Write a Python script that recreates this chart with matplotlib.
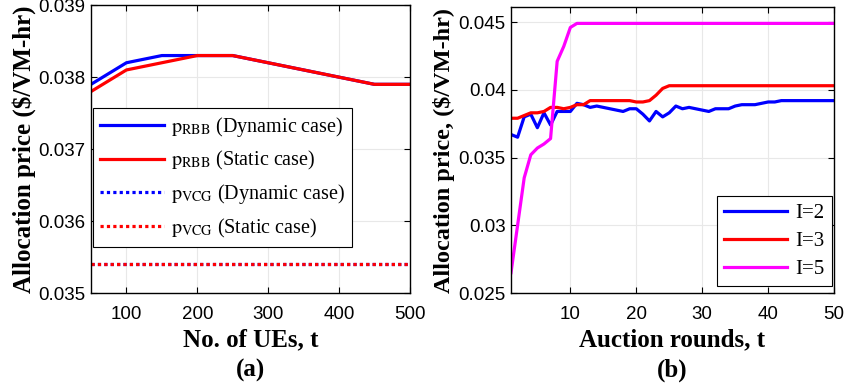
import numpy as np
import matplotlib
matplotlib.use('Agg')
import matplotlib.pyplot as plt
from matplotlib import rcParams
from matplotlib.ticker import FuncFormatter

rcParams['font.family'] = 'Liberation Sans'
rcParams['mathtext.fontset'] = 'stix'
rcParams['axes.linewidth'] = 1.0
rcParams['xtick.direction'] = 'in'
rcParams['ytick.direction'] = 'in'

serif = {'family': 'Liberation Serif', 'weight': 'bold'}

# (a) price vs number of UEs
ues = [50, 100, 150, 200, 250, 300, 350, 400, 450, 500]
rbb_dynamic = [0.0379, 0.0382, 0.0383, 0.0383, 0.0383, 0.0382, 0.0381, 0.0380, 0.0379, 0.0379]
rbb_static = [0.0378, 0.0381, 0.0382, 0.0383, 0.0383, 0.0382, 0.0381, 0.0380, 0.0379, 0.0379]
vcg_dynamic = [0.0354] * len(ues)
vcg_static = [0.0354] * len(ues)

# (b) price vs auction rounds
rounds = list(range(1, 51))
price_i2 = [0.0367, 0.0365, 0.0380, 0.0382, 0.0372, 0.0383, 0.0374, 0.0384, 0.0384, 0.0384,
            0.0390, 0.0389, 0.0387, 0.0388, 0.0387, 0.0386, 0.0385, 0.0384, 0.0386, 0.0386,
            0.0382, 0.0377, 0.0384, 0.0380, 0.0383, 0.0388, 0.0386, 0.0387, 0.0386, 0.0385,
            0.0384, 0.0386, 0.0386, 0.0386, 0.0388, 0.0389, 0.0389, 0.0389, 0.0390, 0.0391,
            0.0391, 0.0392, 0.0392, 0.0392, 0.0392, 0.0392, 0.0392, 0.0392, 0.0392, 0.0392]
price_i3 = [0.0379, 0.0379, 0.0381, 0.0383, 0.0383, 0.0384, 0.0387, 0.0387, 0.0386, 0.0387,
            0.0389, 0.0389, 0.0392, 0.0392, 0.0392, 0.0392, 0.0392, 0.0392, 0.0392, 0.0391,
            0.0391, 0.0392, 0.0396, 0.0401] + [0.0403] * 26
price_i5 = [0.0265, 0.0300, 0.0335, 0.0352, 0.0357, 0.0360, 0.0364, 0.0421, 0.0432, 0.0446] + [0.0449] * 40

fig = plt.figure(figsize=(8.48, 3.9), dpi=100)
ax1 = fig.add_axes([0.1073, 0.2487, 0.376, 0.738])
ax2 = fig.add_axes([0.6026, 0.2487, 0.381, 0.733])

lw = 2.3
ax1.plot(ues, rbb_dynamic, '-', color='#0000ff', linewidth=lw,
         label=r'$\mathrm{p}_{\mathrm{RBB}}$ (Dynamic case)')
ax1.plot(ues, rbb_static, '-', color='#ff0000', linewidth=lw,
         label=r'$\mathrm{p}_{\mathrm{RBB}}$ (Static case)')
ax1.plot(ues, vcg_dynamic, color='#0000ff', linewidth=lw, linestyle=(0, (1, 1)),
         label=r'$\mathrm{p}_{\mathrm{VCG}}$ (Dynamic case)')
ax1.plot(ues, vcg_static, color='#ff0000', linewidth=lw, linestyle=(0, (1, 1)),
         label=r'$\mathrm{p}_{\mathrm{VCG}}$ (Static case)')
ax1.set_xlim(50, 500)
ax1.set_ylim(0.035, 0.039)
ax1.set_xticks([100, 200, 300, 400, 500])
ax1.set_yticks([0.035, 0.036, 0.037, 0.038, 0.039])

ax2.plot(rounds, price_i2, '-', color='#0000ff', linewidth=lw, label='I=2')
ax2.plot(rounds, price_i3, '-', color='#ff0000', linewidth=lw, label='I=3')
ax2.plot(rounds, price_i5, '-', color='#ff00ff', linewidth=lw, label='I=5')
ax2.set_xlim(1, 50)
ax2.set_ylim(0.025, 0.0461)
ax2.set_xticks([10, 20, 30, 40, 50])
ax2.set_yticks([0.025, 0.03, 0.035, 0.04, 0.045])

fmt = FuncFormatter(lambda v, p: ('%g' % round(v, 4)))
for ax in (ax1, ax2):
    ax.yaxis.set_major_formatter(fmt)
    ax.tick_params(labelsize=13.5, top=True, right=True, length=4, width=0.8)
    ax.tick_params(axis='x', pad=9)
    ax.tick_params(axis='y', pad=4)
    ax.grid(True, color='#e8e8e8', linewidth=0.8)
    ax.set_axisbelow(True)

ax1.set_xlabel('No. of UEs, t\n(a)', fontdict=serif, fontsize=18, linespacing=1.4, labelpad=4)
ax1.set_ylabel('Allocation price ($/VM-hr)', fontdict=serif, fontsize=18, labelpad=2)
ax2.set_xlabel('Auction rounds, t\n(b)', fontdict=serif, fontsize=18, linespacing=1.4, labelpad=4)
ax2.set_ylabel('Allocation price, ($/VM-hr)', fontdict=serif, fontsize=17.5, labelpad=2)

leg1 = ax1.legend(loc='upper left', bbox_to_anchor=(0.005, 0.642), fancybox=False,
                  edgecolor='black', framealpha=1, handlelength=3.2,
                  prop={'family': 'Liberation Serif', 'size': 14.5},
                  borderpad=0.35, labelspacing=0.5, handletextpad=0.35, borderaxespad=0)
leg1.get_frame().set_linewidth(0.8)
leg2 = ax2.legend(loc='lower right', bbox_to_anchor=(0.992, 0.024), fancybox=False,
                  edgecolor='black', framealpha=1, handlelength=3.0,
                  prop={'family': 'Liberation Serif', 'size': 15},
                  borderpad=0.35, labelspacing=0.4, handletextpad=0.4, borderaxespad=0)
leg2.get_frame().set_linewidth(0.8)

fig.savefig('out.png', dpi=100)
